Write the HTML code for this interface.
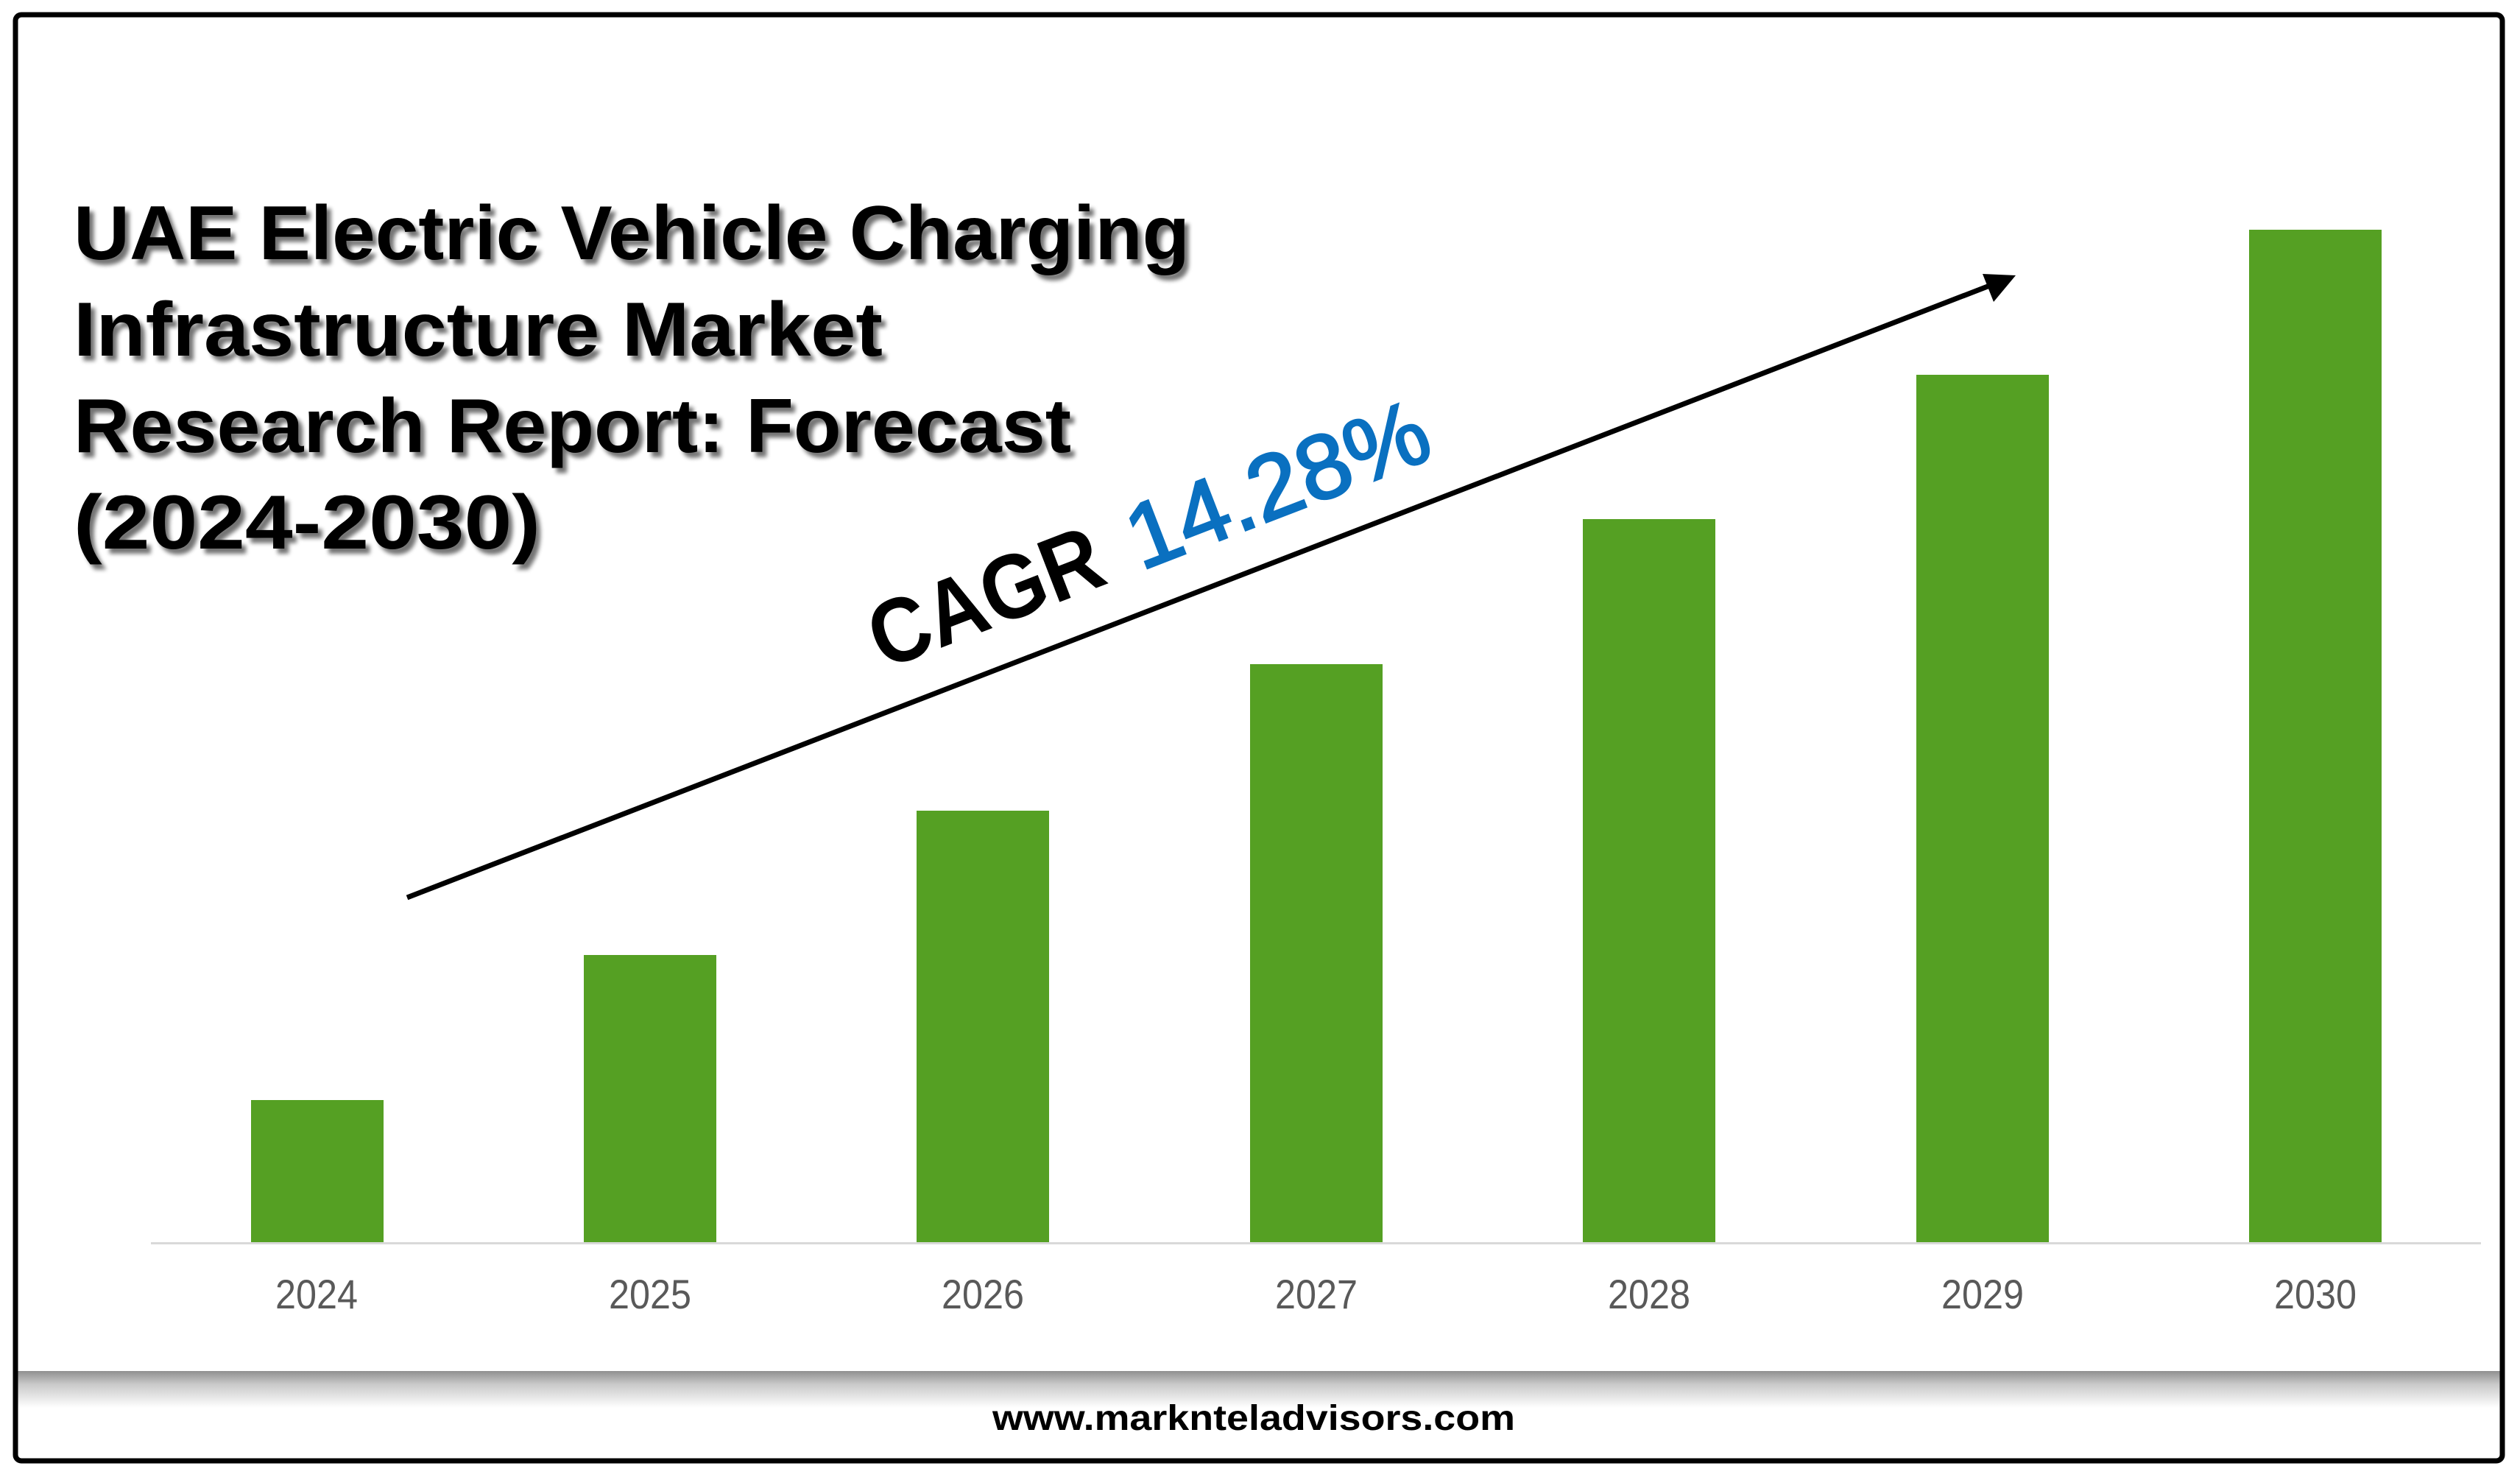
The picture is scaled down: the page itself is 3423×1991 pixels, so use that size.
<!DOCTYPE html>
<html><head><meta charset="utf-8"><style>
html,body{margin:0;padding:0;background:#fff;}
svg{display:block;}
</style></head><body>
<svg width="3423" height="1991" viewBox="0 0 3423 1991" xmlns="http://www.w3.org/2000/svg">
<defs>
<linearGradient id="sh" x1="0" y1="0" x2="0" y2="1">
<stop offset="0" stop-color="#8f8f8f"/>
<stop offset="0.35" stop-color="#c8c8c8"/>
<stop offset="1" stop-color="#ffffff"/>
</linearGradient>
<filter id="ts" x="-5%" y="-20%" width="110%" height="140%">
<feGaussianBlur in="SourceAlpha" stdDeviation="3"/>
<feOffset dx="6" dy="7"/>
<feComponentTransfer><feFuncA type="linear" slope="0.55"/></feComponentTransfer>
<feMerge><feMergeNode/><feMergeNode in="SourceGraphic"/></feMerge>
</filter>
</defs>
<rect x="0" y="0" width="3423" height="1991" fill="#fff"/>
<rect x="24" y="1862" width="3372" height="50" fill="url(#sh)"/>
<rect x="21" y="20" width="3378" height="1964" rx="8" fill="none" stroke="#000" stroke-width="7"/>
<rect x="205" y="1687" width="3165" height="3" fill="#d9d9d9"/>
<g fill="#55a023">
<rect x="341" y="1494" width="180" height="193"/>
<rect x="793" y="1297" width="180" height="390"/>
<rect x="1245" y="1101" width="180" height="586"/>
<rect x="1698" y="902" width="180" height="785"/>
<rect x="2150" y="705" width="180" height="982"/>
<rect x="2603" y="509" width="180" height="1178"/>
<rect x="3055" y="312" width="180" height="1375"/>
</g>
<g font-family="Liberation Sans, sans-serif" font-size="56" fill="#595959" text-anchor="middle">
<text x="430" y="1777" textLength="112" lengthAdjust="spacingAndGlyphs">2024</text>
<text x="883" y="1777" textLength="112" lengthAdjust="spacingAndGlyphs">2025</text>
<text x="1335" y="1777" textLength="112" lengthAdjust="spacingAndGlyphs">2026</text>
<text x="1788" y="1777" textLength="112" lengthAdjust="spacingAndGlyphs">2027</text>
<text x="2240" y="1777" textLength="112" lengthAdjust="spacingAndGlyphs">2028</text>
<text x="2693" y="1777" textLength="112" lengthAdjust="spacingAndGlyphs">2029</text>
<text x="3145" y="1777" textLength="112" lengthAdjust="spacingAndGlyphs">2030</text>
</g>
<g font-family="Liberation Sans, sans-serif" font-weight="bold" font-size="104" fill="#000" filter="url(#ts)">
<text x="100" y="352" textLength="1516" lengthAdjust="spacingAndGlyphs">UAE Electric Vehicle Charging</text>
<text x="100" y="483" textLength="1099" lengthAdjust="spacingAndGlyphs">Infrastructure Market</text>
<text x="100" y="614" textLength="1355" lengthAdjust="spacingAndGlyphs">Research Report: Forecast</text>
<text x="100" y="745" textLength="634" lengthAdjust="spacingAndGlyphs">(2024-2030)</text>
</g>
<line x1="553" y1="1219" x2="2705" y2="387" stroke="#000" stroke-width="7"/>
<polygon points="2738,374 2693,372 2708,410" fill="#000"/>
<g transform="translate(1200,910) rotate(-21.1)" font-family="Liberation Sans, sans-serif" font-size="124">
<text x="0" y="0" font-weight="bold" fill="#000" textLength="330" lengthAdjust="spacingAndGlyphs">CAGR</text>
<text x="375" y="0" fill="#0a70c0" stroke="#0a70c0" stroke-width="3" textLength="430" lengthAdjust="spacingAndGlyphs">14.28%</text>
</g>
<text x="1703" y="1942" font-family="Liberation Sans, sans-serif" font-weight="bold" font-size="48" fill="#000" text-anchor="middle" textLength="710" lengthAdjust="spacingAndGlyphs">www.marknteladvisors.com</text>
</svg>
</body></html>
